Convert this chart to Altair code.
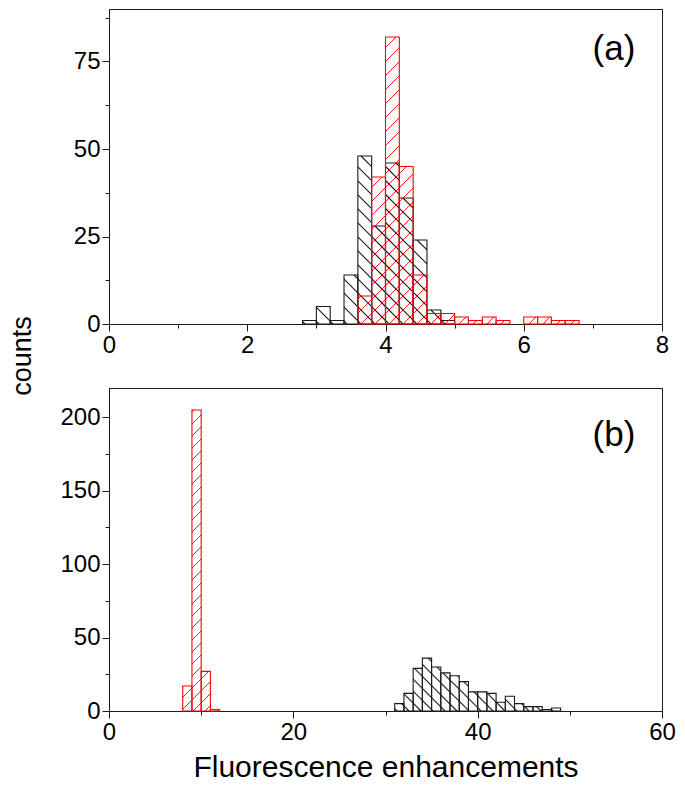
import math
import altair as alt
import pandas as pd

# ---------------- data ----------------
# panel (a): bins of width 0.2
a_bin_width = 0.2
a_black_bins = [2.8, 3.0, 3.2, 3.4, 3.6, 3.8, 4.0, 4.2, 4.4, 4.6, 4.8]
a_black_counts = [1, 5, 1, 14, 48, 28, 46, 36, 24, 4, 1]
a_red_bins = [3.6, 3.8, 4.0, 4.2, 4.4, 4.6, 4.8, 5.0, 5.2, 5.4, 5.6, 5.8, 6.0, 6.2, 6.4, 6.6]
a_red_counts = [8, 42, 82, 45, 14, 3, 3, 2, 1, 2, 1, 0, 2, 2, 1, 1]

# panel (b): bins of width 1
b_bin_width = 1.0
b_red_bins = [8, 9, 10, 11]
b_red_counts = [17, 205, 27, 1]
b_black_bins = [31, 32, 33, 34, 35, 36, 37, 38, 39, 40, 41, 42, 43, 44, 45, 46, 47, 48]
b_black_counts = [5, 12, 29, 36, 30, 26, 24, 20, 13, 13, 12, 6, 10, 5, 3, 3, 1, 2]

# axis ticks (major + minor)
a_x_ticks = [0, 1, 2, 3, 4, 5, 6, 7, 8]
a_y_ticks = [0, 12.5, 25, 37.5, 50, 62.5, 75, 87.5]
b_x_ticks = [0, 10, 20, 30, 40, 50, 60]
b_y_ticks = [0, 25, 50, 75, 100, 125, 150, 175, 200]

FONT = "Liberation Sans"
RED = "#ff0000"
BLACK = "#1a1a1a"
W = 553
HA = 315
HB = 323


def bars_df(bins, counts, width):
    return pd.DataFrame({
        "x": [b for b, c in zip(bins, counts) if c > 0],
        "x2": [b + width for b, c in zip(bins, counts) if c > 0],
        "y": [0 for c in counts if c > 0],
        "y2": [c for c in counts if c > 0],
    })


def hatch_df(bins, counts, width, kx, ky, spacing, direction):
    rows = []
    for x0, h in zip(bins, counts):
        if h <= 0:
            continue
        X0, X1, Y1 = x0 * kx, (x0 + width) * kx, h * ky
        if direction == "/":
            k0 = math.ceil(-X1 / spacing)
            k1 = math.floor((Y1 - X0) / spacing)
            for k in range(k0, k1 + 1):
                c = k * spacing
                xs, xe = max(X0, -c), min(X1, Y1 - c)
                if xe - xs > 0.5:
                    rows.append(dict(x=xs / kx, x2=xe / kx, y=(xs + c) / ky, y2=(xe + c) / ky))
        else:
            k0 = math.ceil(X0 / spacing)
            k1 = math.floor((X1 + Y1) / spacing)
            for k in range(k0, k1 + 1):
                c = k * spacing
                xs, xe = max(X0, c - Y1), min(X1, c)
                if xe - xs > 0.5:
                    rows.append(dict(x=xs / kx, x2=xe / kx, y=(c - xs) / ky, y2=(c - xe) / ky))
    return pd.DataFrame(rows)


def make_axis(values, major_test, title=None, **kw):
    return alt.Axis(
        values=values,
        labelExpr=f"({major_test}) ? datum.label : ''",
        tickSize={"condition": {"test": major_test, "value": 7}, "value": 4},
        grid=False,
        title=title,
        labelFont=FONT,
        labelFontSize=24,
        labelColor="black",
        labelPadding=2,
        labelFlush=False,
        domainColor=BLACK,
        tickColor=BLACK,
        domainWidth=1,
        tickWidth=1,
        **kw,
    )


def panel(xdom, ydom, h, xaxis, yaxis, black, red, width, spacing, tag, tag_y, extra=None):
    kx = W / (xdom[1] - xdom[0])
    ky = h / (ydom[1] - ydom[0])
    xs = alt.Scale(domain=xdom, nice=False, zero=False)
    ys = alt.Scale(domain=ydom, nice=False)
    X = alt.X("x:Q", scale=xs, axis=xaxis)
    Y = alt.Y("y:Q", scale=ys, axis=yaxis)

    def hatch_layer(bins, counts, direction, color, sw):
        d = hatch_df(bins, counts, width, kx, ky, spacing, direction)
        return alt.Chart(d).mark_rule(color=color, strokeWidth=sw).encode(
            x=X, x2="x2:Q", y=Y, y2="y2:Q")

    def bar_layer(bins, counts, color):
        d = bars_df(bins, counts, width)
        return alt.Chart(d).mark_rect(fill="transparent", stroke=color, strokeWidth=1.1).encode(
            x=X, x2="x2:Q", y=Y, y2="y2:Q")

    layers = [
        hatch_layer(black[0], black[1], "\\", BLACK, 1.1),
        bar_layer(black[0], black[1], BLACK),
        hatch_layer(red[0], red[1], "/", RED, 0.9),
        bar_layer(red[0], red[1], RED),
        alt.Chart(pd.DataFrame({"t": [tag]})).mark_text(
            font=FONT, fontSize=35, color="black", align="center", baseline="middle"
        ).encode(text="t:N", x=alt.value(W - 48), y=alt.value(tag_y)),
    ]
    if extra is not None:
        layers.append(extra)
    return alt.layer(*layers).properties(width=W, height=h)


counts_label = alt.Chart(pd.DataFrame({"t": ["counts"]})).mark_text(
    font=FONT, fontSize=27, color="black", angle=270, align="center", baseline="middle"
).encode(text="t:N", x=alt.value(-86), y=alt.value(347))

pa = panel(
    [0, 8], [0, 90], HA,
    make_axis(a_x_ticks, "datum.value % 2 === 0"),
    make_axis(a_y_ticks, "datum.value % 25 === 0"),
    (a_black_bins, a_black_counts), (a_red_bins, a_red_counts),
    a_bin_width, 14, "(a)", 40, extra=counts_label,
)

pb = panel(
    [0, 60], [0, 220], HB,
    make_axis(b_x_ticks, "datum.value % 20 === 0", title="Fluorescence enhancements",
              titleFont=FONT, titleFontSize=30, titleFontWeight="normal",
              titleColor="black", titlePadding=8),
    make_axis(b_y_ticks, "datum.value % 50 === 0"),
    (b_black_bins, b_black_counts), (b_red_bins, b_red_counts),
    b_bin_width, 12, "(b)", 47,
)

chart = alt.vconcat(pa, pb, spacing=64, bounds="flush").properties(
    padding={"left": 0, "top": 0, "right": 0, "bottom": 0}
).configure(background="white").configure_view(stroke=BLACK, strokeWidth=1)

chart.save("out.html", embed_options={"renderer": "svg", "actions": False})
